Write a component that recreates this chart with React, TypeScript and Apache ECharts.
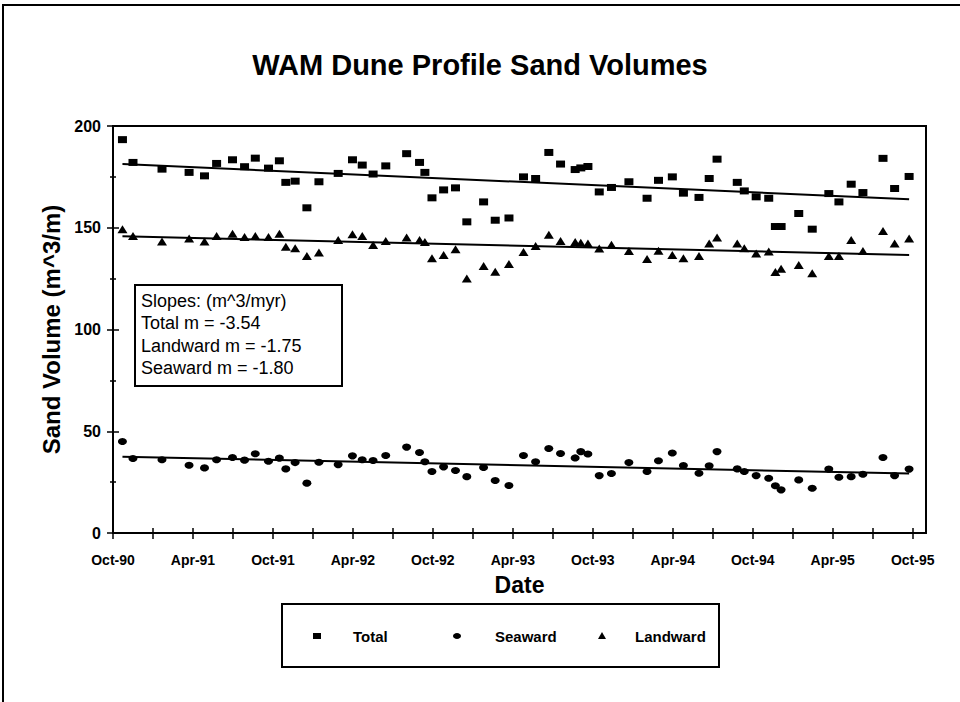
import React, { useEffect, useRef } from "react";
import * as echarts from "echarts";

// Survey dates
const dates = [
  "1990-10-23", "1990-11-16", "1991-01-22", "1991-03-23", "1991-04-27", "1991-05-25", "1991-06-30", "1991-07-28", "1991-08-22", "1991-09-21",
  "1991-10-16", "1991-10-31", "1991-11-21", "1991-12-18", "1992-01-15", "1992-02-27", "1992-03-31", "1992-04-22", "1992-05-17", "1992-06-15",
  "1992-08-02", "1992-09-01", "1992-09-13", "1992-09-29", "1992-10-26", "1992-11-22", "1992-12-18", "1993-01-26", "1993-02-20", "1993-03-23",
  "1993-04-25", "1993-05-23", "1993-06-22", "1993-07-19", "1993-08-22", "1993-09-04", "1993-09-20", "1993-10-16", "1993-11-13", "1993-12-23",
  "1994-02-03", "1994-02-27", "1994-03-31", "1994-04-25", "1994-05-31", "1994-06-23", "1994-07-11", "1994-08-27", "1994-09-12", "1994-10-09",
  "1994-11-07", "1994-11-22", "1994-12-05", "1995-01-15", "1995-02-14", "1995-03-23", "1995-04-15", "1995-05-13", "1995-06-09", "1995-07-25",
  "1995-08-21", "1995-09-23",
];

const totalValues = [
  193.3, 182.1, 178.8, 177.2, 175.5, 181.6, 183.4, 180.0, 184.2, 179.3,
  182.9, 172.3, 172.9, 159.8, 172.6, 176.7, 183.4, 180.8, 176.4, 180.4,
  186.4, 182.1, 177.2, 164.7, 168.6, 169.6, 152.9, 162.7, 153.7, 154.8,
  175.0, 174.2, 187.0, 181.3, 178.6, 179.4, 180.1, 167.6, 169.8, 172.6,
  164.5, 173.3, 175.0, 167.0, 164.9, 174.2, 183.7, 172.3, 168.1, 165.2,
  164.5, 150.6, 150.6, 157.0, 149.3, 166.8, 162.7, 171.4, 167.3, 184.1,
  169.3, 175.2,
];

const landwardValues = [
  149.3, 146.0, 143.2, 144.7, 143.3, 146.0, 147.1, 145.5, 146.0, 145.5,
  147.1, 140.7, 139.9, 136.1, 137.8, 144.0, 146.8, 146.0, 141.5, 143.5,
  145.2, 144.0, 143.0, 135.0, 136.6, 139.4, 125.1, 131.2, 128.4, 132.2,
  138.1, 141.0, 146.5, 143.5, 143.0, 142.6, 142.2, 139.8, 141.7, 138.6,
  134.7, 138.7, 136.6, 135.0, 136.1, 142.2, 145.2, 142.2, 139.9, 137.4,
  138.3, 128.2, 129.9, 131.7, 127.6, 136.1, 136.1, 144.0, 138.6, 148.4,
  142.2, 144.7,
];

const seawardValues = [
  45.0, 36.6, 36.0, 33.3, 32.0, 36.0, 37.1, 35.8, 38.9, 35.3,
  36.8, 31.5, 34.6, 24.5, 34.8, 33.6, 37.9, 36.0, 35.6, 38.1,
  42.2, 39.6, 35.0, 30.2, 32.5, 30.7, 27.7, 32.2, 25.8, 23.3,
  38.1, 35.0, 41.5, 39.1, 36.9, 40.0, 38.8, 28.2, 29.2, 34.6,
  30.2, 35.5, 39.3, 33.2, 29.4, 33.0, 40.0, 31.5, 30.2, 28.2,
  26.9, 23.2, 21.2, 26.1, 22.0, 31.4, 27.4, 27.7, 28.9, 37.1,
  28.2, 31.4,
];

// Linear trend lines (end points)
const trendDates = ["1990-10-23", "1995-09-23"];
const totalTrend = [181.3, 164.0];
const landwardTrend = [145.8, 136.6];
const seawardTrend = [37.5, 29.2];

const slopeLines = ["Slopes: (m^3/myr)", "Total m = -3.54", "Landward m = -1.75", "Seaward m = -1.80"];
const legendNames = ["Total", "Seaward", "Landward"];
const monthNames = ["Jan", "Feb", "Mar", "Apr", "May", "Jun", "Jul", "Aug", "Sep", "Oct", "Nov", "Dec"];

const FONT = "'Liberation Sans', Arial, Helvetica, sans-serif";

// months since 1 Oct 1990
function toMonths(s: string): number {
  const [y, m, d] = s.split("-").map(Number);
  const dim = new Date(Date.UTC(y, m, 0)).getUTCDate();
  return (y - 1990) * 12 + (m - 10) + (d - 1) / dim;
}

function monthLabel(v: number): string {
  const r = Math.round(v);
  if (Math.abs(v - r) > 1e-6 || r % 6 !== 0) return "";
  const mi = (9 + r) % 12;
  const year = 1990 + Math.floor((r + 9) / 12);
  return monthNames[mi] + "-" + String(year % 100).padStart(2, "0");
}

export default function App() {
  const ref = useRef<HTMLDivElement>(null);

  useEffect(() => {
    document.body.style.margin = "0";
    if (!ref.current) return;
    const chart = echarts.init(ref.current, null, { renderer: "svg" });

    const GL = 113, GR = 926, GT = 126, GB = 533;
    const toPairs = (xs: string[], ys: number[]) => xs.map((d, i) => [toMonths(d), ys[i]]);
    const gridBox = { left: GL, right: 960 - GR, top: GT, bottom: 702 - GB };
    const tickStyle = { color: "#000", width: 1.5 };

    const scatterBase = {
      type: "scatter" as const,
      itemStyle: { color: "#000", opacity: 1 },
      z: 3,
    };
    const trendBase = {
      type: "line" as const,
      showSymbol: false,
      symbol: "none",
      lineStyle: { color: "#000", width: 2 },
      z: 2,
    };

    const option: any = {
      animation: false,
      backgroundColor: "#fff",
      title: {
        text: "WAM Dune Profile Sand Volumes",
        left: "center",
        top: 45,
        textStyle: { fontFamily: FONT, fontSize: 29, fontWeight: "bold", color: "#000" },
      },
      grid: [
        { ...gridBox, show: true, borderColor: "#000", borderWidth: 2, backgroundColor: "transparent" },
        { ...gridBox, show: false },
      ],
      xAxis: [
        {
          type: "value",
          gridIndex: 0,
          min: 0,
          max: 61,
          interval: 3,
          axisLine: { show: true, lineStyle: { color: "#000", width: 2 } },
          axisTick: { show: true, length: 6, lineStyle: tickStyle },
          axisLabel: {
            formatter: monthLabel,
            color: "#000",
            fontFamily: FONT,
            fontWeight: "bold",
            fontSize: 14,
            margin: 20,
            showMaxLabel: false,
          },
          splitLine: { show: false },
          name: "Date",
          nameLocation: "middle",
          nameGap: 40,
          nameTextStyle: { fontFamily: FONT, fontSize: 23, fontWeight: "bold", color: "#000" },
        },
        {
          type: "value",
          gridIndex: 1,
          min: 0,
          max: 61,
          interval: 3,
          axisLine: { show: false },
          axisTick: { show: true, inside: true, length: 5, lineStyle: tickStyle },
          axisLabel: { show: false },
          splitLine: { show: false },
        },
      ],
      yAxis: [
        {
          type: "value",
          gridIndex: 0,
          min: 0,
          max: 200,
          interval: 50,
          axisLine: { show: true, lineStyle: { color: "#000", width: 2 } },
          axisTick: { show: true, length: 6, lineStyle: tickStyle },
          minorTick: { show: true, splitNumber: 2, length: 3, lineStyle: tickStyle },
          axisLabel: {
            color: "#000",
            fontFamily: FONT,
            fontWeight: "bold",
            fontSize: 16,
            margin: 12,
          },
          splitLine: { show: false },
          name: "Sand Volume (m^3/m)",
          nameLocation: "middle",
          nameGap: 46,
          nameTextStyle: { fontFamily: FONT, fontSize: 24, fontWeight: "bold", color: "#000" },
        },
        {
          type: "value",
          gridIndex: 1,
          min: 0,
          max: 200,
          interval: 50,
          axisLine: { show: false },
          axisTick: { show: true, inside: true, length: 6, lineStyle: tickStyle },
          minorTick: { show: true, splitNumber: 2, length: 3, lineStyle: tickStyle },
          axisLabel: { show: false },
          splitLine: { show: false },
        },
      ],
      series: [
        { ...scatterBase, name: "Total", symbol: "rect", symbolSize: [9, 7], data: toPairs(dates, totalValues) },
        { ...scatterBase, name: "Seaward", symbol: "circle", symbolSize: [9, 7], data: toPairs(dates, seawardValues) },
        { ...scatterBase, name: "Landward", symbol: "triangle", symbolSize: [10, 8], data: toPairs(dates, landwardValues) },
        { ...trendBase, name: "Total trend", data: toPairs(trendDates, totalTrend) },
        { ...trendBase, name: "Landward trend", data: toPairs(trendDates, landwardTrend) },
        { ...trendBase, name: "Seaward trend", data: toPairs(trendDates, seawardTrend) },
      ],
      graphic: [
        {
          type: "rect",
          silent: true,
          shape: { x: 3, y: 5, width: 1100, height: 900 },
          style: { fill: "none", stroke: "#000", lineWidth: 2 },
          z: 0,
        },
        {
          type: "group",
          z: 10,
          children: [
            {
              type: "rect",
              shape: { x: 135, y: 285, width: 207, height: 101 },
              style: { fill: "#fff", stroke: "#000", lineWidth: 2 },
            },
            ...slopeLines.map((t, i) => ({
              type: "text",
              x: 141,
              y: 301 + i * 22.3,
              style: {
                text: t,
                fill: "#000",
                font: `18px ${FONT}`,
                verticalAlign: "middle",
              },
            })),
          ],
        },
        {
          type: "group",
          z: 10,
          children: [
            {
              type: "rect",
              shape: { x: 282, y: 604, width: 437, height: 63 },
              style: { fill: "#fff", stroke: "#000", lineWidth: 2 },
            },
            { type: "rect", shape: { x: 313, y: 633, width: 8, height: 6 }, style: { fill: "#000" } },
            { type: "ellipse", shape: { cx: 457, cy: 636, rx: 4, ry: 3 }, style: { fill: "#000" } },
            {
              type: "polygon",
              shape: { points: [[598, 639], [606, 639], [602, 632]] },
              style: { fill: "#000" },
            },
            ...[353, 495, 635].map((x, i) => ({
              type: "text",
              x,
              y: 636,
              style: {
                text: legendNames[i],
                fill: "#000",
                font: `bold 15px ${FONT}`,
                verticalAlign: "middle",
              },
            })),
          ],
        },
      ],
    };

    chart.setOption(option);
    return () => chart.dispose();
  }, []);

  return <div ref={ref} style={{ width: 960, height: 702 }} />;
}
